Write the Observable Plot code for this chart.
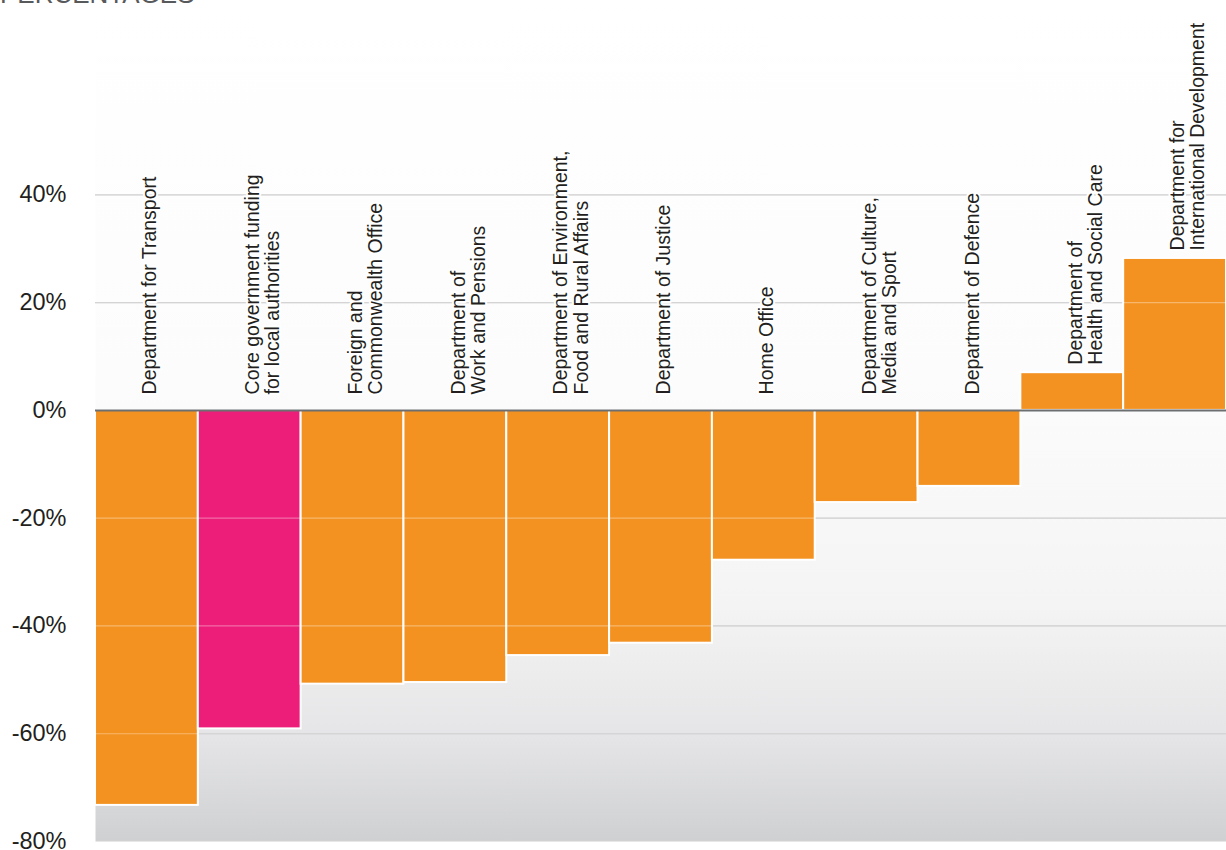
<!DOCTYPE html>
<html>
<head>
<meta charset="utf-8">
<script src="https://cdn.jsdelivr.net/npm/d3@7"></script>
<script src="https://cdn.jsdelivr.net/npm/@observablehq/plot@0.6"></script>
<style>
  body { margin: 0; background: #fff; }
  #wrap { position: relative; width: 1226px; height: 850px; overflow: hidden; font-family: "Liberation Sans", Arial, sans-serif; }
  #chart { position: absolute; left: 0; top: 0; }
  #title { position: absolute; left: 0; top: -19px; font-size: 26px; line-height: 26px; color: #58595b; }
</style>
</head>
<body>
<div id="wrap">
  <div id="chart"></div>
  <div id="title">PERCENTAGES</div>
</div>
<script>
// ---- data ----
const departments = [
  "Department for Transport",
  "Core government funding\nfor local authorities",
  "Foreign and\nCommonwealth Office",
  "Department of\nWork and Pensions",
  "Department of Environment,\nFood and Rural Affairs",
  "Department of Justice",
  "Home Office",
  "Department of Culture,\nMedia and Sport",
  "Department of Defence",
  "Department of\nHealth and Social Care",
  "Department for\nInternational Development"
];
const changes = [-73.3, -59.1, -50.8, -50.5, -45.5, -43.2, -27.8, -17.1, -14.1, 7.0, 28.2];
const groups = ["Department", "Local authorities", "Department", "Department", "Department", "Department",
                "Department", "Department", "Department", "Department", "Department"];
const yTicks = [-80, -60, -40, -20, 0, 20, 40];
const gridTicks = [-60, -40, -20, 20, 40];

const data = departments.map((d, i) => ({dept: d, change: changes[i], group: groups[i]}));

const gradientDefs = () => {
  const defs = d3.create("svg:defs");
  const g = defs.append("linearGradient").attr("id", "bgGrad")
    .attr("x1", 0).attr("y1", 0).attr("x2", 0).attr("y2", 1);
  [[0, "#ffffff"], [0.45, "#fcfcfc"], [0.6, "#f8f8f8"], [0.72, "#f4f4f4"], [0.875, "#e5e5e7"], [1, "#cfd0d2"]]
    .forEach(([o, c]) => g.append("stop").attr("offset", o).attr("stop-color", c));
  return defs.node();
};

const textOpts = {
  x: "dept", text: "dept", rotate: -90, textAnchor: "start", lineAnchor: "top",
  fontSize: 19.5, lineHeight: 1.03, fill: "#231f20", stroke: "white", strokeWidth: 4, dx: -5
};

const chart = Plot.plot({
  width: 1226,
  height: 850,
  marginLeft: 95,
  marginRight: 0,
  marginTop: 0,
  marginBottom: 9,
  style: {fontFamily: "'Liberation Sans', Arial, sans-serif", background: "transparent", overflow: "visible"},
  x: {domain: departments, padding: 0, round: false, axis: null},
  y: {domain: [-80, 76.07], axis: null},
  color: {domain: ["Department", "Local authorities"], range: ["#f39220", "#ed1e79"]},
  marks: [
    gradientDefs,
    Plot.frame({fill: "url(#bgGrad)", stroke: "none"}),
    Plot.ruleY(gridTicks, {stroke: "#bdbdbd", strokeWidth: 1.2}),
    Plot.barY(data, {x: "dept", y: "change", fill: "group", stroke: "white", strokeWidth: 2}),
    Plot.ruleY(gridTicks, {stroke: "white", strokeOpacity: 0.35, strokeWidth: 1.2}),
    Plot.ruleY([0], {stroke: "#6d6e70", strokeWidth: 2}),
    Plot.axisY(yTicks, {tickSize: 0, tickPadding: 29, tickFormat: d => `${d}%`, fontSize: 23.5, fill: "#231f20", label: null}),
    Plot.text(data.filter(d => d.change < 0), {...textOpts, y: 0, dy: -16}),
    Plot.text(data.filter(d => d.change >= 0), {...textOpts, y: "change", dy: -8})
  ]
});
document.getElementById("chart").appendChild(chart);
</script>
</body>
</html>
